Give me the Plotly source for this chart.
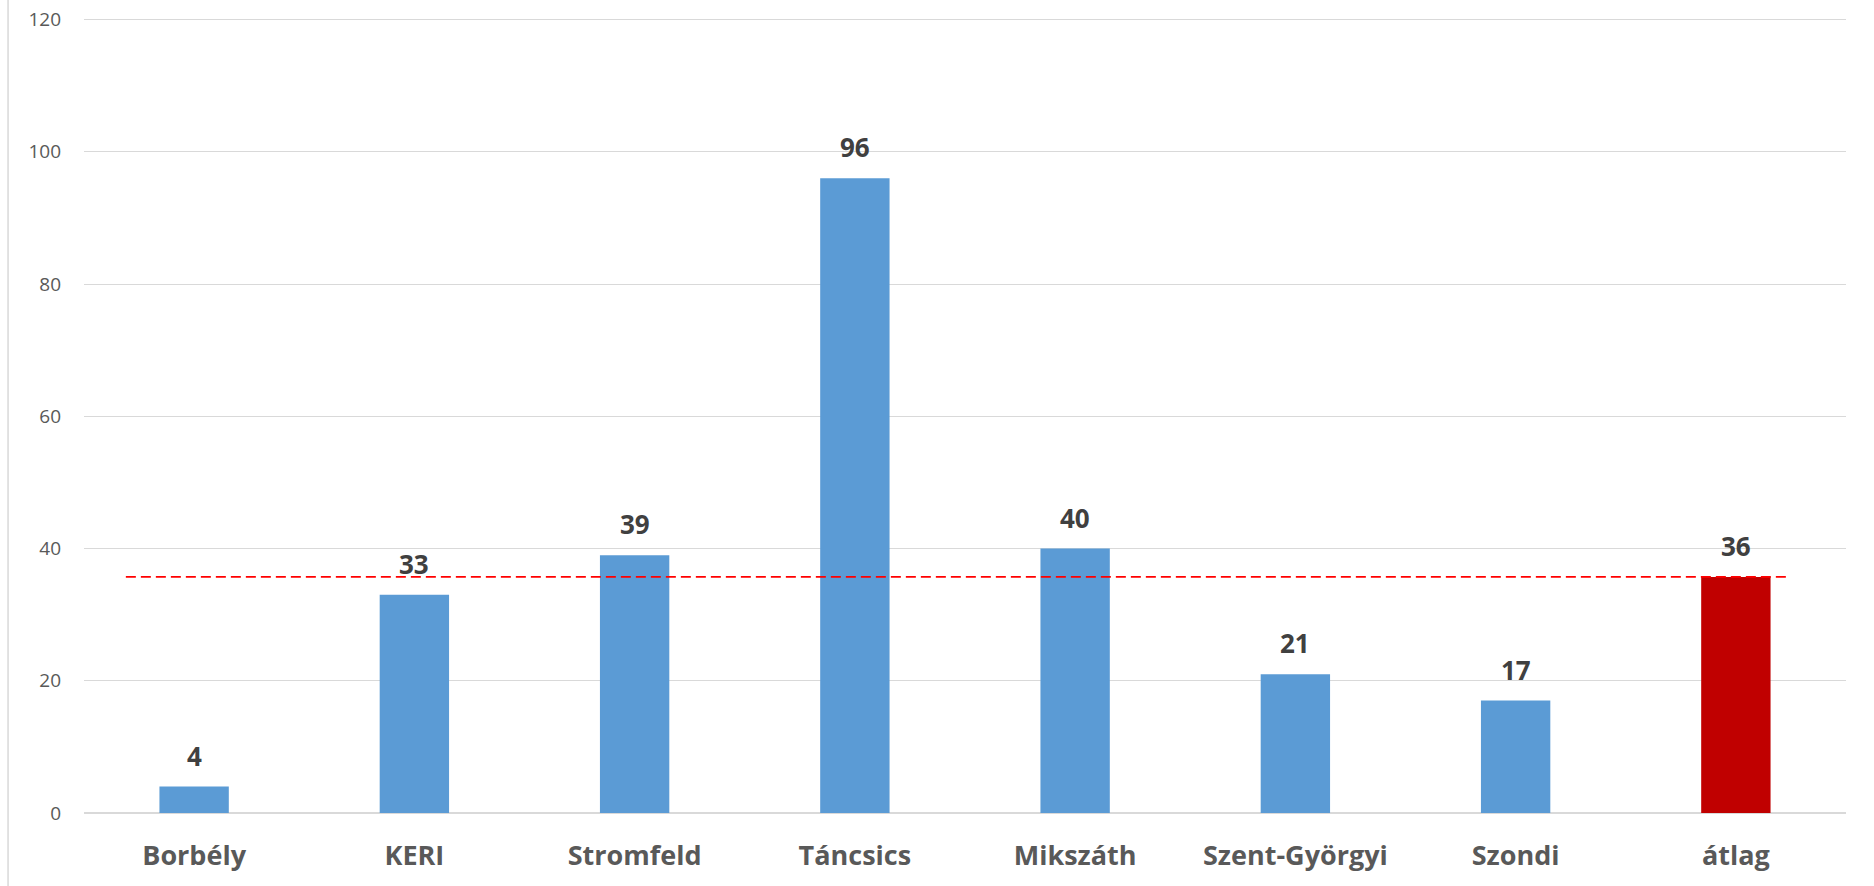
import plotly.graph_objects as go

categories = ["Borbély", "KERI", "Stromfeld", "Táncsics", "Mikszáth", "Szent-Györgyi", "Szondi", "átlag"]
values = [4, 33, 39, 96, 40, 21, 17, 35.7]
labels = ["4", "33", "39", "96", "40", "21", "17", "36"]
bar_colors = ["#5B9BD5"] * 7 + ["#C00000"]
avg_value = 35.7
y_ticks = [0, 20, 40, 60, 80, 100, 120]

fig = go.Figure()
fig.add_trace(go.Bar(
    x=categories, y=values,
    marker=dict(color=bar_colors, line=dict(width=0)),
    width=0.315,
    hoverinfo="x+y",
))

for c, v, t in zip(categories, values, labels):
    fig.add_annotation(
        x=c, y=v, text=t, showarrow=False, yanchor="bottom", yshift=11,
        font=dict(family="Open Sans", size=26, color="#404040", weight="bold"),
    )

# average dashed line
fig.add_shape(
    type="line", xref="x", yref="y", x0=-0.31, x1=7.23, y0=avg_value, y1=avg_value,
    line=dict(color="#FF0000", width=1.7, dash="10px,5px"),
)

# left border line of chart area
fig.add_shape(
    type="line", xref="paper", yref="paper", x0=-0.0431, x1=-0.0431, y0=-0.2, y1=1.1,
    line=dict(color="#D9D9D9", width=1.5),
)

fig.update_layout(
    width=1874, height=886,
    margin=dict(l=84, r=28, t=13, b=73, autoexpand=False),
    paper_bgcolor="white", plot_bgcolor="white",
    showlegend=False,
    bargap=0.685,
)
fig.update_xaxes(
    type="category", showgrid=False, showline=False, zeroline=False,
    ticks="", ticklabelstandoff=24, automargin=False, ticklabeloverflow="allow",
    tickfont=dict(family="Open Sans", size=27, color="#595959", weight="bold"),
)
fig.update_yaxes(
    range=[0, 121], tickvals=y_ticks, showgrid=True, gridcolor="#D9D9D9", gridwidth=1.3,
    zeroline=True, zerolinecolor="#D9D9D9", zerolinewidth=1.6, showline=False,
    ticks="", ticklabelstandoff=22, automargin=False, ticklabeloverflow="allow",
    tickfont=dict(family="Open Sans", size=19, color="#595959"),
)

fig.write_html(
    "out.html",
    config={"displayModeBar": False},
    post_script="document.body.style.margin='0';document.body.style.overflow='hidden';",
)
